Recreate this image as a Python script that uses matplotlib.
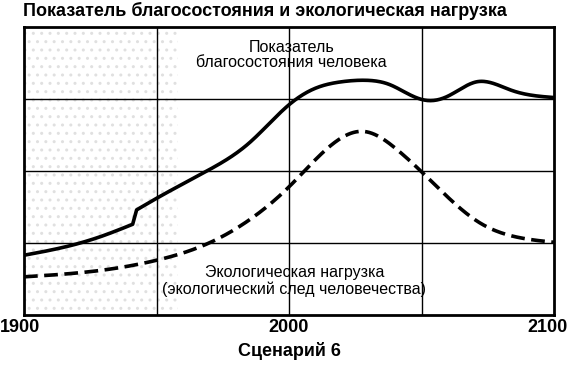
import matplotlib
matplotlib.use("Agg")
import matplotlib.pyplot as plt
import matplotlib.transforms as mtransforms
import numpy as np

plt.rcParams['font.family'] = ['Liberation Sans', 'DejaVu Sans']

# Welfare index (solid): before and after the small step around 1941
welfare_years_a = [1900, 1916, 1929, 1941]
welfare_vals_a  = [0.83, 0.95, 1.09, 1.26]
welfare_years_b = [1942.5, 1950, 1969, 1985, 2000, 2010, 2020, 2029, 2038, 2045, 2052, 2060, 2071, 2084, 2100]
welfare_vals_b  = [1.46, 1.62, 2.00, 2.39, 2.92, 3.15, 3.24, 3.26, 3.20, 3.07, 2.98, 3.04, 3.24, 3.12, 3.02]

# Ecological footprint (dashed)
eco_years = [1900, 1929, 1950, 1971, 1985, 2000, 2017, 2028, 2041, 2050, 2061, 2072, 2085, 2100]
eco_vals  = [0.53, 0.62, 0.76, 1.02, 1.32, 1.78, 2.39, 2.55, 2.29, 1.99, 1.60, 1.28, 1.09, 1.01]

x_ticks = [1900, 2000, 2100]
title = "Показатель благосостояния и экологическая нагрузка"
xlabel = "Сценарий 6"
welfare_label = "Показатель\nблагосостояния человека"
eco_label = "Экологическая нагрузка\n(экологический след человечества)"

def spline(xs, ys, n=400):
    xs = np.asarray(xs, float); ys = np.asarray(ys, float)
    N = len(xs); h = np.diff(xs)
    A = np.zeros((N, N)); r = np.zeros(N)
    A[0, 0] = 1; A[-1, -1] = 1
    for i in range(1, N - 1):
        A[i, i-1] = h[i-1]; A[i, i] = 2*(h[i-1] + h[i]); A[i, i+1] = h[i]
        r[i] = 6*((ys[i+1]-ys[i])/h[i] - (ys[i]-ys[i-1])/h[i-1])
    M = np.linalg.solve(A, r)
    xx = np.linspace(xs[0], xs[-1], n)
    idx = np.clip(np.searchsorted(xs, xx) - 1, 0, N - 2)
    x0 = xs[idx]; x1 = xs[idx+1]; hh = h[idx]
    yy = (M[idx]*(x1-xx)**3/(6*hh) + M[idx+1]*(xx-x0)**3/(6*hh)
          + (ys[idx]/hh - M[idx]*hh/6)*(x1-xx) + (ys[idx+1]/hh - M[idx+1]*hh/6)*(xx-x0))
    return xx, yy

fig = plt.figure(figsize=(5.7, 3.66), dpi=100)
ax = fig.add_axes([24/570, 1 - 315/366, (554-24)/570, (315-27)/366])

ax.set_xlim(1900, 2100)
ax.set_ylim(0, 4)

# faint stippled background
ax.axvspan(1900, 1958, facecolor='white', edgecolor='#e0e0e0', hatch='..', linewidth=0, zorder=0)

for gx in [1950, 2000, 2050]:
    ax.axvline(gx, color='black', lw=1.0, zorder=1)
for gy in [1, 2, 3]:
    ax.axhline(gy, color='black', lw=1.0, zorder=1)

ax_, ay_ = spline(welfare_years_a, welfare_vals_a)
bx_, by_ = spline(welfare_years_b, welfare_vals_b)
wx = np.concatenate([ax_, bx_]); wy = np.concatenate([ay_, by_])
ax.plot(wx, wy, color='black', lw=2.6, solid_joinstyle='round', zorder=3)
ex, ey = spline(eco_years, eco_vals)
ax.plot(ex, ey, color='black', lw=2.6, linestyle=(0, (3.8, 1.8)), zorder=3)

ax.text(2001, (315-55)/72, welfare_label, ha='center', va='center', fontsize=11.5, linespacing=1.05, zorder=4)
ax.text(2002, (315-281)/72, eco_label, ha='center', va='center', fontsize=11.5, linespacing=1.05, zorder=4)

for s in ax.spines.values():
    s.set_linewidth(2.0)
ax.set_yticks([])
ax.set_xticks(x_ticks)
ax.set_xticklabels([str(t) for t in x_ticks], fontsize=13, fontweight='bold')
ax.tick_params(axis='x', length=0, pad=3)
labels = ax.get_xticklabels()
shifts = [-4, 0, -7]
for lab, dx in zip(labels, shifts):
    lab.set_transform(lab.get_transform() + mtransforms.ScaledTranslation(dx/100, 0, fig.dpi_scale_trans))
ax.set_xlabel(xlabel, fontsize=13, fontweight='bold', labelpad=4)

fig.text(23/570, 1 - 11/366, title, ha='left', va='center', fontsize=13, fontweight='bold')

fig.savefig('out.png', dpi=100)
